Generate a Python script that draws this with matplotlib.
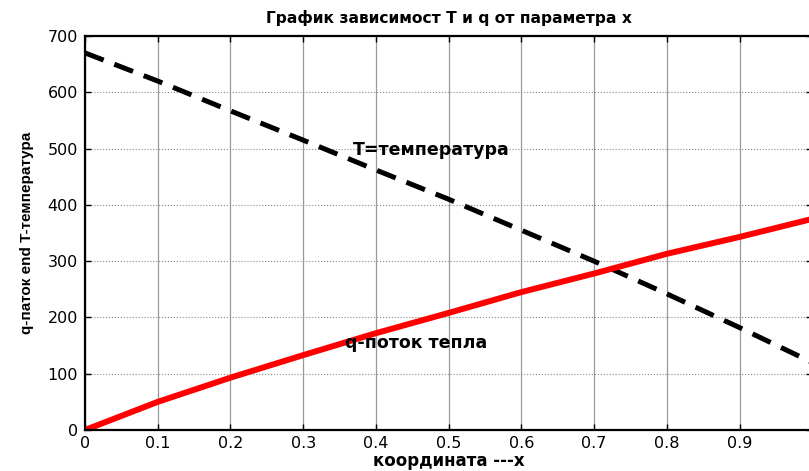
import numpy as np
import matplotlib
matplotlib.use("Agg")
import matplotlib.pyplot as plt

plt.rcParams['font.family'] = ['DejaVu Sans']

# values
x = [0.0, 0.1, 0.2, 0.3, 0.4, 0.5, 0.6, 0.7, 0.8, 0.9, 1.0]
T = [670, 620, 567, 515, 462, 410, 355, 300, 242, 182, 120]
q = [0, 50, 93, 133, 172, 208, 245, 278, 313, 343, 375]

xticks = [0, 0.1, 0.2, 0.3, 0.4, 0.5, 0.6, 0.7, 0.8, 0.9]
xticklabels = ['0', '0.1', '0.2', '0.3', '0.4', '0.5', '0.6', '0.7', '0.8', '0.9']
yticks = [0, 100, 200, 300, 400, 500, 600, 700]

fig = plt.figure(figsize=(8.09, 4.71), dpi=100)
ax = fig.add_axes([0.105, 0.087, 0.899, 0.8366])

ax.plot(x, T, color='black', lw=3.6, dashes=(4, 2.3))
ax.plot(x, q, color='red', lw=4.3)

ax.set_xlim(0, 1)
ax.set_ylim(0, 700)
ax.set_xticks(xticks)
ax.set_xticklabels(xticklabels)
ax.set_yticks(yticks)

# MATLAB-like grid: vertical solid grey, horizontal dotted
ax.xaxis.grid(True, color='#999999', lw=0.9, ls='-')
ax.yaxis.grid(True, color='#888888', lw=0.8, ls=':')

ax.tick_params(direction='in', top=True, right=True, length=4, width=1,
               labelsize=11.5)
ax.tick_params(axis='y', pad=5)
ax.tick_params(axis='x', pad=4)
for s in ax.spines.values():
    s.set_linewidth(1.6)

ax.text(0.369, 497, 'T=температура', fontsize=12.5, fontweight='bold',
        va='center', ha='left')
ax.text(0.358, 155, 'q-поток тепла', fontsize=12.5, fontweight='bold',
        va='center', ha='left')

ax.set_title('График зависимост T и q от параметра x', fontsize=11.2,
             fontweight='bold', pad=9)
ax.set_xlabel('координата ---x', fontsize=12, fontweight='bold', labelpad=1)
ax.set_ylabel('q-паток end T-температура', fontsize=11, fontweight='bold',
              family=['DejaVu Sans Condensed', 'Liberation Sans Narrow',
                      'Liberation Sans'],
              labelpad=10)

fig.savefig('out.png', dpi=100)
